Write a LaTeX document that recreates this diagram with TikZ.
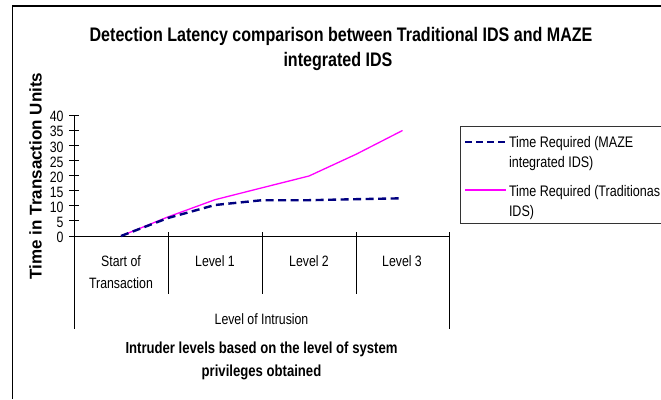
\documentclass[tikz,border=0pt]{standalone}
\usepackage{fontspec}
\setmainfont{Liberation Sans}[FakeStretch=0.82]
\newfontfamily\widesans{Liberation Sans}
\definecolor{mazeblue}{RGB}{0,0,128}
\definecolor{tradpink}{RGB}{255,0,255}
\begin{document}
\begin{tikzpicture}[x=1pt,y=-1pt,
  every node/.style={inner sep=0pt,outer sep=0pt},
  chartframe/.style={line width=1.4pt,black},
  axisline/.style={line width=0.9pt,black},
  ticklbl/.style={anchor=base east,font=\fontsize{15}{17}\selectfont},
  catlbl/.style={anchor=base,font=\fontsize{15}{18}\selectfont},
  boldlbl/.style={anchor=base,font=\fontsize{16}{19}\selectfont\bfseries},
  titlelbl/.style={anchor=base,font=\fontsize{19.6}{24}\selectfont\bfseries},
  legendlbl/.style={anchor=base west,font=\fontsize{15.3}{18}\selectfont},
  mazeline/.style={mazeblue,line width=2.4pt,dash pattern=on 8pt off 4.5pt},
  tradline/.style={tradpink,line width=1.3pt,line join=round}]
\useasboundingbox (0,0) rectangle (661,399);

% chart area border (top and left edges)
\draw[chartframe] (12.5,399) -- (12.5,6) -- (661,6);

% title
\node[titlelbl] (title-a) at (341,41) {Detection Latency comparison between Traditional IDS and MAZE};
\node[titlelbl] (title-b) at (338,66.5) {integrated IDS};

% vertical axis title
\node[rotate=90,anchor=base,font=\fontsize{17}{20}\selectfont\widesans\bfseries] (ytitle) at (41.5,176) {Time in Transaction Units};

% value axis with ticks and labels
\draw[axisline] (74,115) -- (74,329);
\foreach \v [count=\k from 0] in {0,5,...,40}{
  \pgfmathsetmacro{\yy}{236-\k*15.125}
  \draw[axisline] (69,\yy) -- (79,\yy);
  \node[ticklbl] (tick-\k) at (63.5,\yy+6.8) {\v};
}

% category axis and dividers
\draw[axisline] (74,236) -- (449,236);
\foreach \xx in {168,262,356}{
  \draw[axisline] (\xx,232) -- (\xx,294);
}
\draw[axisline] (449,232) -- (449,329);

\node[catlbl] (cat-a) at (121,266.7) {Start of};
\node[catlbl] (cat-b) at (121,288.7) {Transaction};
\node[catlbl] (cat-c) at (215,266.7) {Level 1};
\node[catlbl] (cat-d) at (309,266.7) {Level 2};
\node[catlbl] (cat-e) at (402,266.7) {Level 3};
\node[catlbl] (xgroup) at (261.5,324) {Level of Intrusion};

\node[boldlbl] (xtitle-a) at (261.5,353) {Intruder levels based on the level of system};
\node[boldlbl] (xtitle-b) at (261.5,376.5) {privileges obtained};

% data series
\draw[tradline] (121,236) -- (168,216.9) -- (215,199.7) -- (262,187.8)
  -- (309,176) -- (356,154.3) -- (402.5,130.5);
\draw[mazeline] (121,236) -- (168,218) -- (215,205) -- (262,200.2)
  -- (309,200.2) -- (356,199.2) -- (402.5,198.3);

% legend
\draw[line width=1pt,black!80] (460,126) rectangle (680,223);
\draw[mazeline,dash pattern=on 6.7pt off 4.3pt] (465,142) -- (507,142);
\draw[tradline] (465,190) -- (506,190);
\node[legendlbl] (leg-a) at (509,147) {Time Required (MAZE};
\node[legendlbl] (leg-b) at (509,167.5) {integrated IDS)};
\node[legendlbl] (leg-c) at (509,196) {Time Required (Traditionas};
\node[legendlbl] (leg-d) at (509,216) {IDS)};
\end{tikzpicture}
\end{document}
